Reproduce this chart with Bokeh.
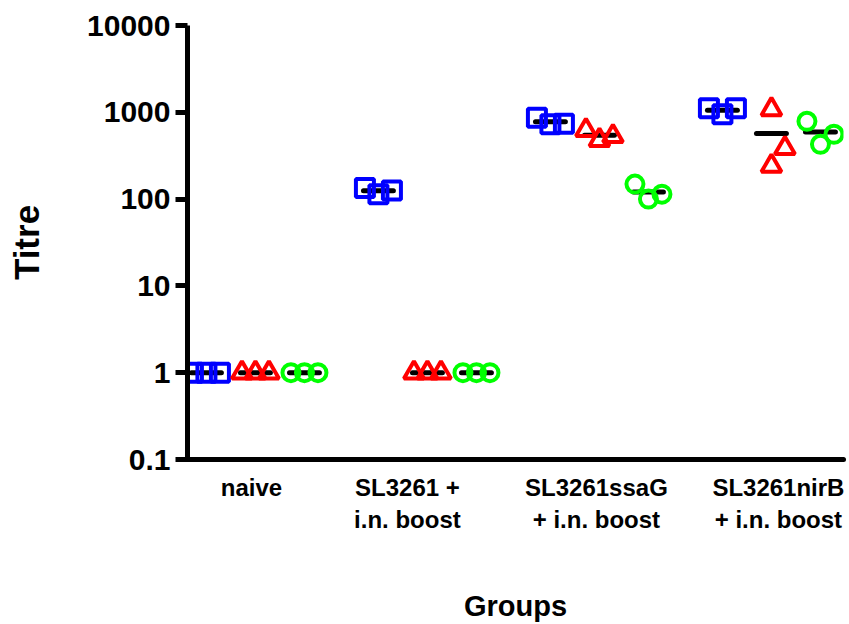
import numpy as np
from bokeh.plotting import figure
from bokeh.models import Range1d, FixedTicker, PrintfTickFormatter
from bokeh.embed import file_html
from bokeh.resources import INLINE

# Groups and their axis labels
groups = ["naive", "SL3261 +\ni.n. boost", "SL3261ssaG\n+ i.n. boost", "SL3261nirB\n+ i.n. boost"]

# Titres per group (three animals each)
blue_titres = [[1, 1, 1], [134, 114, 126], [865, 728, 740], [1112, 948, 1112]]
red_titres = [[1, 1, 1], [1, 1, 1], [620, 478, 530], [1080, 386, 240]]
green_titres = [[1, 1, 1], [1, 1, 1], [149, 100, 114], [788, 428, 558]]

# y tick values
y_ticks = [0.1, 1, 10, 100, 1000, 10000]

FONT = "Liberation Sans"
PX_PER_UNIT = 172.0          # horizontal pixels per group
PX_PER_DECADE = 86.8         # vertical pixels per decade

series = [
    (blue_titres, "square", "#0000ff", 18, -0.285),
    (red_titres, "triangle", "#ff0000", 20, 0.0),
    (green_titres, "circle", "#00ff00", 17, 0.285),
]

# label centres relative to group centres (pixels)
label_shift_px = [-4, -20, -3, 7]


def spread(values, marker_px=24.0, step=0.0785):
    """Scatter-style horizontal spreading of overlapping points."""
    order = np.argsort(values, kind="stable")
    slots = [0, 1, -1, 2, -2]
    placed = []
    out = [0.0] * len(values)
    for i in order:
        yv = np.log10(values[i]) * PX_PER_DECADE
        for s in slots:
            clash = any(ps == s and abs(py - yv) < marker_px for ps, py in placed)
            if not clash:
                placed.append((s, yv))
                out[i] = s * step
                break
    return out


p = figure(width=849, height=624, y_axis_type="log",
           x_range=Range1d(0.605, 4.419), y_range=Range1d(0.1, 10000),
           output_backend="svg", toolbar_location=None,
           min_border_left=187, min_border_right=6,
           min_border_top=25, min_border_bottom=165)
p.outline_line_color = None
p.grid.visible = False
p.background_fill_color = "white"
p.border_fill_color = "white"

# mean bars first, markers on top
half = 0.087
for data, marker, color, size, off in series:
    for g, vals in enumerate(data):
        cx = g + 1 + off
        m = float(np.mean(vals))
        p.segment(x0=[cx - half], y0=[m], x1=[cx + half], y1=[m],
                  line_color="black", line_width=5, line_cap="round")

for data, marker, color, size, off in series:
    xs, ys = [], []
    for g, vals in enumerate(data):
        cx = g + 1 + off
        for v, j in zip(vals, spread(vals)):
            xs.append(cx + j)
            ys.append(v)
    p.scatter(xs, ys, marker=marker, size=size, fill_color=None,
              line_color=color, line_width=4)

# y axis
ya = p.yaxis[0]
ya.ticker = FixedTicker(ticks=y_ticks, minor_ticks=[])
ya.formatter = PrintfTickFormatter(format="%g")
ya.axis_line_width = 5
ya.axis_line_color = "black"
ya.major_tick_line_width = 5
ya.major_tick_out = 12
ya.major_tick_in = 0
ya.minor_tick_line_color = None
ya.major_label_standoff = 5
ya.major_label_text_font = FONT
ya.major_label_text_font_style = "bold"
ya.major_label_text_font_size = "30px"
ya.major_label_text_color = "black"
ya.axis_label = "Titre"
ya.axis_label_text_font = FONT
ya.axis_label_text_font_style = "bold"
ya.axis_label_text_font_size = "35px"
ya.axis_label_text_color = "black"
ya.axis_label_standoff = 38

# x axis
label_pos = [g + 1 + s / PX_PER_UNIT for g, s in enumerate(label_shift_px)]
xa = p.xaxis[0]
xa.ticker = FixedTicker(ticks=label_pos, minor_ticks=[])
xa.major_label_overrides = {pos: name for pos, name in zip(label_pos, groups)}
xa.axis_line_width = 5
xa.axis_line_color = "black"
xa.axis_line_cap = "round"
xa.major_tick_line_color = None
xa.major_tick_out = 0
xa.major_tick_in = 0
xa.minor_tick_line_color = None
xa.major_label_standoff = 14
xa.major_label_text_font = FONT
xa.major_label_text_font_style = "bold"
xa.major_label_text_font_size = "24px"
xa.major_label_text_color = "black"
xa.axis_label = "Groups"
xa.axis_label_text_font = FONT
xa.axis_label_text_font_style = "bold"
xa.axis_label_text_font_size = "29px"
xa.axis_label_text_color = "black"
xa.axis_label_standoff = 54

open("out.html", "w").write(file_html(p, INLINE))
